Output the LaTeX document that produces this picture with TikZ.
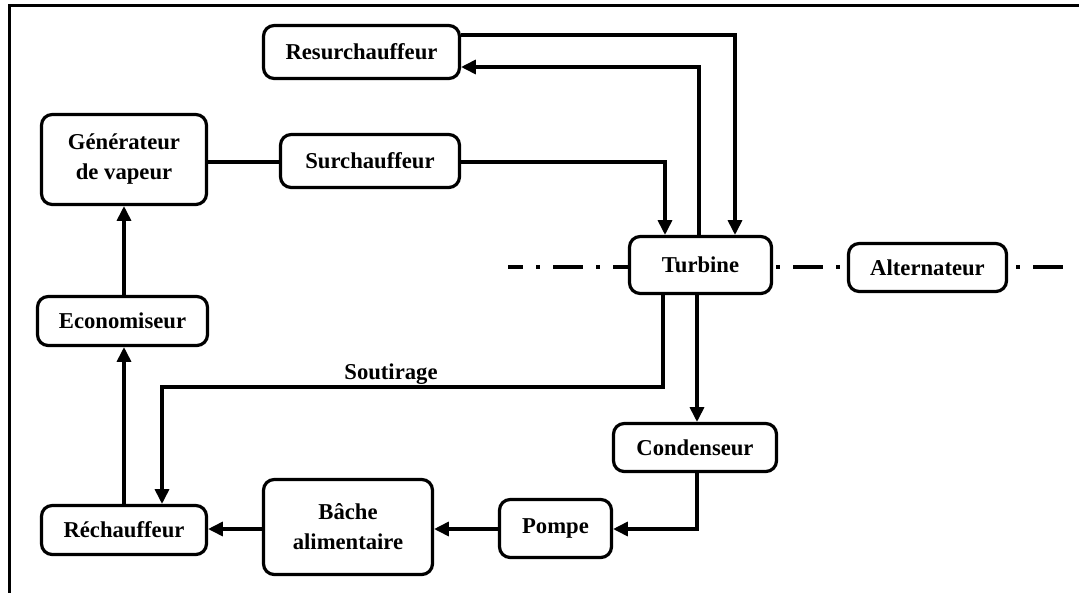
\documentclass[tikz,border=0pt]{standalone}
\usepackage{fontspec}
\setmainfont{Liberation Serif}
\usetikzlibrary{arrows.meta}
\newdimen\pxu
\pxu=0.75pt
\begin{document}
\begin{tikzpicture}[x=0.75pt,y=-0.75pt,
  txt/.style={font=\fontsize{17}{22.5}\selectfont\bfseries},
  blk/.style={txt, draw, line width=2.4pt, rounded corners=8pt, inner sep=0pt, align=center},
  conn/.style={line width=2.3pt},
  arr/.style={conn, -{Triangle[length=11pt,width=10.5pt]}},
  shaft/.style={line width=2.6pt, dash pattern=on 22.5pt off 9.75pt on 3pt off 9.75pt},
  frame/.style={line width=2.6pt}
]
\useasboundingbox (0,0) rectangle (1079,593);
% frame
\draw[frame] (1079,5.5) -- (9.5,5.5) -- (9.5,593);
% blocks
\node[blk, minimum width=196\pxu, minimum height=53\pxu] (res) at (361.5,52) {Resurchauffeur};
\node[blk, minimum width=165\pxu, minimum height=90\pxu] (gv) at (124,159.5) {Générateur\\de vapeur};
\node[blk, minimum width=179\pxu, minimum height=53\pxu] (sur) at (370,161) {Surchauffeur};
\node[blk, minimum width=142\pxu, minimum height=57\pxu] (tur) at (700.5,265) {Turbine};
\node[blk, minimum width=158\pxu, minimum height=48\pxu] (alt) at (927.5,267.5) {Alternateur};
\node[blk, minimum width=170\pxu, minimum height=49\pxu] (eco) at (122.5,321) {Economiseur};
\node[blk, minimum width=165\pxu, minimum height=49\pxu] (rech) at (124,530) {Réchauffeur};
\node[blk, minimum width=169\pxu, minimum height=95\pxu] (bac) at (348,527) {Bâche\\alimentaire};
\node[blk, minimum width=112\pxu, minimum height=58\pxu] (pom) at (555.5,528.5) {Pompe};
\node[blk, minimum width=163\pxu, minimum height=48\pxu] (con) at (695,447.5) {Condenseur};
% routing coordinates
\coordinate (a1) at (735,35);
\coordinate (a2) at (699,67);
\coordinate (s1) at (665,162);
\coordinate (so) at (663,387);
\coordinate (so2) at (162,387);
\coordinate (c1) at (697,529);
\coordinate (dl) at (508,267);
\coordinate (dr) at (1063,267);
% connectors
\draw[arr] (res.east |- a1) -| (a1 |- tur.north);
\draw[arr] (a2 |- tur.north) |- (res.east |- a2);
\draw[conn] (gv.east |- s1) -- (sur.west |- s1);
\draw[arr] (sur.east |- s1) -| (s1 |- tur.north);
\draw[arr] (eco.north -| gv.south) -- (gv.south);
\draw[arr] (rech.north -| gv.south) -- (eco.south -| gv.south);
\draw[arr] (so |- tur.south) -- (so) -- (so2) -- (so2 |- rech.north);
\node[txt] (soulab) at (391,374) {Soutirage};
\draw[arr] (c1 |- tur.south) -- (c1 |- con.north);
\draw[arr] (c1 |- con.south) -- (c1) -- (pom.east |- c1);
\draw[arr] (pom.west |- c1) -- (bac.east |- c1);
\draw[arr] (bac.west |- c1) -- (rech.east |- c1);
% shaft line
\draw[shaft, dash phase=11.25pt] (dl) -- (tur.west |- dl);
\draw[shaft, dash phase=30pt] (tur.east |- dl) -- (alt.west |- dl);
\draw[shaft, dash phase=26.25pt] (alt.east |- dl) -- (dr);
\end{tikzpicture}
\end{document}
